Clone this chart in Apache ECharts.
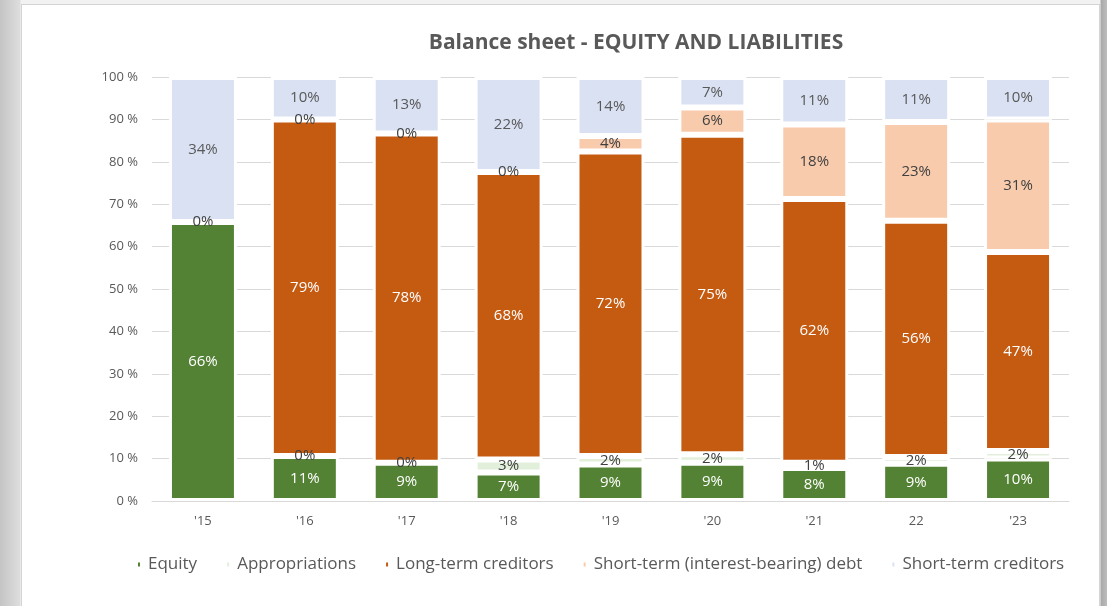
<!DOCTYPE html>
<html>
<head>
<meta charset="utf-8">
<title>Balance sheet - EQUITY AND LIABILITIES</title>
<script src="https://cdn.jsdelivr.net/npm/echarts@6/dist/echarts.min.js"></script>
<style>
  html, body { margin: 0; padding: 0; width: 1107px; height: 606px; overflow: hidden; }
  body {
    background: linear-gradient(to right, #c4c4c4 0px, #dedede 20px, #f2f2f2 21px, #f2f2f2 1100px, #a9a9a9 1101px, #bdbdbd 1107px);
    position: relative;
  }
  #card {
    position: absolute; left: 21px; top: 4px; width: 1079px; height: 610px;
    background: #ffffff; border: 1px solid #d4d4d4; box-sizing: border-box;
  }
  #chart { position: absolute; left: 0; top: 0; width: 1107px; height: 606px; }
</style>
</head>
<body>
<div id="card"></div>
<div id="chart"></div>
<script>
// Years on the category axis
const years = ["'15", "'16", "'17", "'18", "'19", "'20", "'21", "22", "'23"];

// Share of total equity and liabilities, percent
const equity          = [65.8, 10.6,  9.0,  6.7,  8.6,  9.0,  7.8,  8.8, 10.0];
const appropriations  = [ 0.0,  0.0,  0.0,  3.1,  2.0,  2.0,  1.2,  1.6,  1.8];
const longTermCred    = [null, 79.4, 77.7, 67.8, 71.8, 75.4, 62.2, 55.7, 46.9];
const shortTermDebt   = [null,  0.0,  0.0,  0.0,  3.7,  6.4, 17.6, 23.3, 31.3];
const shortTermCred   = [34.2, 10.0, 13.3, 22.4, 13.9,  7.2, 11.2, 10.6, 10.0];

// Y axis ticks
const yTicks = [0, 10, 20, 30, 40, 50, 60, 70, 80, 90, 100];

const FONT = '"Open Sans", "Noto Sans", sans-serif';

function makeSeries(name, data, color, labelColor) {
  return {
    name: name,
    type: 'bar',
    stack: 'total',
    data: data,
    barWidth: 68,
    itemStyle: { color: color, borderColor: '#ffffff', borderWidth: 3 },
    label: {
      show: true,
      position: 'inside',
      color: labelColor,
      fontFamily: FONT,
      fontSize: 15,
      formatter: function (p) { return Math.round(p.value) + '%'; }
    },
    emphasis: { disabled: true }
  };
}

const chart = echarts.init(document.getElementById('chart'), null, { renderer: 'canvas' });

chart.setOption({
  backgroundColor: 'transparent',
  animation: false,
  title: {
    text: 'Balance sheet - EQUITY AND LIABILITIES',
    left: 631,
    textAlign: 'center',
    top: 28,
    textStyle: { fontFamily: FONT, fontWeight: 'bold', fontSize: 21, color: '#595959' }
  },
  legend: {
    left: 131,
    top: 551,
    icon: 'rect',
    itemWidth: 4,
    itemHeight: 6,
    itemGap: 28,
    textStyle: { fontFamily: FONT, fontSize: 17, color: '#595959', padding: [0, 0, 0, 2] },
    data: ['Equity', 'Appropriations', 'Long-term creditors', 'Short-term (interest-bearing) debt', 'Short-term creditors']
  },
  grid: { left: 152, right: 38, top: 77, bottom: 105 },
  xAxis: {
    type: 'category',
    data: years,
    axisLine: { show: true, lineStyle: { color: '#d9d9d9', width: 1 } },
    axisTick: { show: false },
    axisLabel: { color: '#595959', fontFamily: FONT, fontSize: 13, margin: 14 }
  },
  yAxis: {
    type: 'value',
    min: yTicks[0],
    max: yTicks[yTicks.length - 1],
    interval: yTicks[1] - yTicks[0],
    axisLine: { show: false },
    axisTick: { show: false },
    splitLine: { lineStyle: { color: '#d9d9d9', width: 1 } },
    axisLabel: { color: '#595959', fontFamily: FONT, fontSize: 13, margin: 14, formatter: '{value} %' }
  },
  series: [
    makeSeries('Equity', equity, '#548235', '#ffffff'),
    makeSeries('Appropriations', appropriations, '#e2efda', '#404040'),
    makeSeries('Long-term creditors', longTermCred, '#c55a11', '#ffffff'),
    makeSeries('Short-term (interest-bearing) debt', shortTermDebt, '#f8cbad', '#404040'),
    makeSeries('Short-term creditors', shortTermCred, '#d9e1f2', '#595959')
  ]
});
</script>
</body>
</html>
